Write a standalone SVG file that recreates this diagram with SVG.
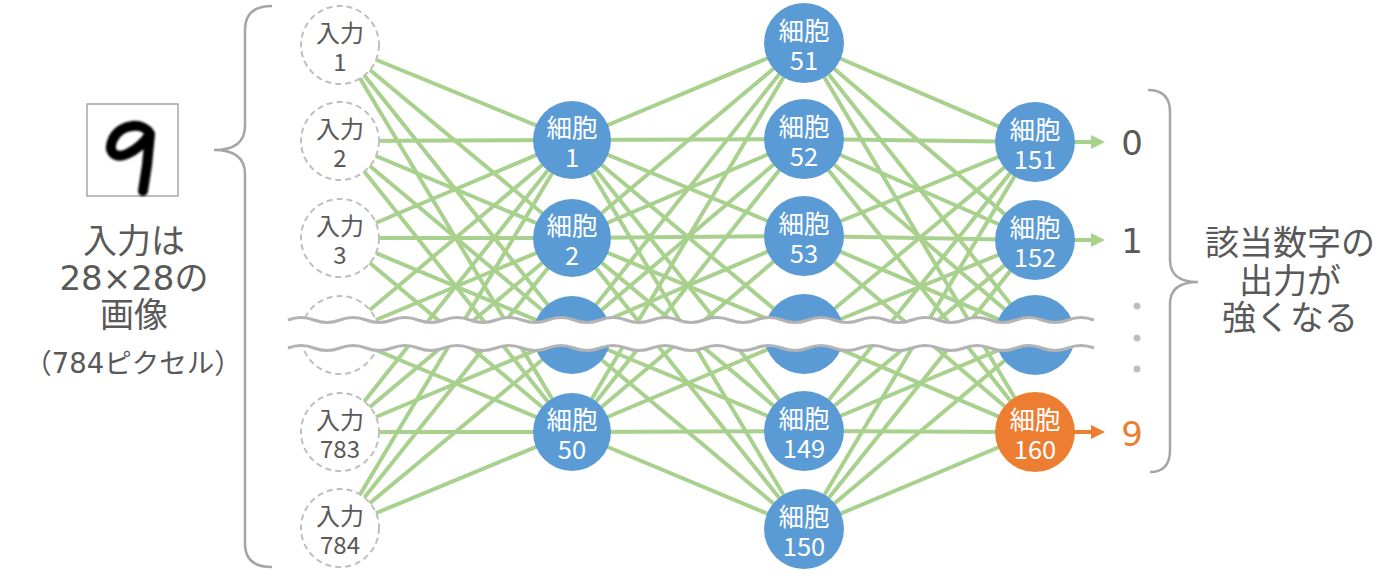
<svg xmlns="http://www.w3.org/2000/svg" width="1400" height="580" viewBox="0 0 1400 580">
<style>
  text { font-family: "Noto Sans CJK JP", "Noto Sans", sans-serif; text-anchor: middle; }
  .conn line { stroke: #A9D18E; stroke-width: 4; stroke-linecap: round; }
  .inp circle { fill: #ffffff; stroke: #BFBFBF; stroke-width: 2; stroke-dasharray: 6 4; }
  .inp text { fill: #595959; font-size: 24px; }
  .cell circle { fill: #5B9BD5; }
  .cell text { fill: #ffffff; font-size: 25.5px; }
  .cell.hot circle { fill: #ED7D31; }
  .brace { fill: none; stroke: #A6A6A6; stroke-width: 2.5; }
  .big { fill: #595959; font-size: 34px; font-family: "DejaVu Sans", "Noto Sans CJK JP", sans-serif; }
  .note { fill: #595959; font-size: 27.5px; font-family: "DejaVu Sans", "Noto Sans CJK JP", sans-serif; }
  .wave { fill: none; stroke: #B3B3B3; stroke-width: 3; }
  .dot { fill: #BFBFBF; }
</style>
<defs>
  <marker id="ahG" markerUnits="userSpaceOnUse" markerWidth="14" markerHeight="14" viewBox="0 0 12 12" refX="6" refY="6" orient="auto">
    <path d="M0,0 L12,6 L0,12 z" fill="#A9D18E"/>
  </marker>
  <marker id="ahO" markerUnits="userSpaceOnUse" markerWidth="14" markerHeight="14" viewBox="0 0 12 12" refX="6" refY="6" orient="auto">
    <path d="M0,0 L12,6 L0,12 z" fill="#ED7D31"/>
  </marker>
  <filter id="soft" x="-20%" y="-20%" width="140%" height="140%">
    <feGaussianBlur stdDeviation="1"/>
  </filter>
</defs>
<rect width="1400" height="580" fill="#ffffff"/>

<!-- input image -->
<g id="input-image">
  <rect x="87" y="104" width="91" height="92" fill="#ffffff" stroke="#A6A6A6" stroke-width="1.5"/>
  <path d="M150 134 C144 122 121 123 113 139 C107 152 115 159 127 154 C138 149 146 140 150 134 L147 165 L143 191" fill="none" stroke="#000000" stroke-width="10" stroke-linecap="round" stroke-linejoin="round" filter="url(#soft)"/>
</g>

<!-- left caption -->
<g id="left-caption">
  <text class="big" x="134" y="253">入力は</text>
  <text class="big" x="134" y="290">28×28の</text>
  <text class="big" x="134" y="327">画像</text>
  <text class="note" x="133" y="373">（784ピクセル）</text>
</g>

<!-- braces -->
<path id="left-brace" class="brace" d="M272 6 Q245 6 245 30 L245 126 Q245 150 214 150 Q245 150 245 174 L245 544 Q245 567 272 567"/>
<path id="right-brace" class="brace" d="M1148 90 Q1170 90 1170 112 L1170 260 Q1170 282 1198 282 Q1170 282 1170 304 L1170 450 Q1170 472 1150 472"/>

<!-- connectors -->
<g id="connectors" class="conn">
  <!-- input -> hidden1 -->
  <line x1="340" y1="45" x2="572" y2="140"/>
  <line x1="340" y1="45" x2="572" y2="238"/>
  <line x1="340" y1="45" x2="572" y2="335"/>
  <line x1="340" y1="45" x2="572" y2="432"/>
  <line x1="340" y1="141" x2="572" y2="140"/>
  <line x1="340" y1="141" x2="572" y2="238"/>
  <line x1="340" y1="141" x2="572" y2="335"/>
  <line x1="340" y1="141" x2="572" y2="432"/>
  <line x1="340" y1="238" x2="572" y2="140"/>
  <line x1="340" y1="238" x2="572" y2="238"/>
  <line x1="340" y1="238" x2="572" y2="335"/>
  <line x1="340" y1="238" x2="572" y2="432"/>
  <line x1="340" y1="335" x2="572" y2="140"/>
  <line x1="340" y1="335" x2="572" y2="238"/>
  <line x1="340" y1="335" x2="572" y2="335"/>
  <line x1="340" y1="335" x2="572" y2="432"/>
  <line x1="340" y1="432" x2="572" y2="140"/>
  <line x1="340" y1="432" x2="572" y2="238"/>
  <line x1="340" y1="432" x2="572" y2="335"/>
  <line x1="340" y1="432" x2="572" y2="432"/>
  <line x1="340" y1="528" x2="572" y2="140"/>
  <line x1="340" y1="528" x2="572" y2="238"/>
  <line x1="340" y1="528" x2="572" y2="335"/>
  <line x1="340" y1="528" x2="572" y2="432"/>
  <!-- hidden1 -> hidden2 -->
  <line x1="572" y1="140" x2="804" y2="43"/>
  <line x1="572" y1="140" x2="804" y2="139"/>
  <line x1="572" y1="140" x2="804" y2="236"/>
  <line x1="572" y1="140" x2="804" y2="334"/>
  <line x1="572" y1="140" x2="804" y2="431"/>
  <line x1="572" y1="140" x2="804" y2="529"/>
  <line x1="572" y1="238" x2="804" y2="43"/>
  <line x1="572" y1="238" x2="804" y2="139"/>
  <line x1="572" y1="238" x2="804" y2="236"/>
  <line x1="572" y1="238" x2="804" y2="334"/>
  <line x1="572" y1="238" x2="804" y2="431"/>
  <line x1="572" y1="238" x2="804" y2="529"/>
  <line x1="572" y1="335" x2="804" y2="43"/>
  <line x1="572" y1="335" x2="804" y2="139"/>
  <line x1="572" y1="335" x2="804" y2="236"/>
  <line x1="572" y1="335" x2="804" y2="334"/>
  <line x1="572" y1="335" x2="804" y2="431"/>
  <line x1="572" y1="335" x2="804" y2="529"/>
  <line x1="572" y1="432" x2="804" y2="43"/>
  <line x1="572" y1="432" x2="804" y2="139"/>
  <line x1="572" y1="432" x2="804" y2="236"/>
  <line x1="572" y1="432" x2="804" y2="334"/>
  <line x1="572" y1="432" x2="804" y2="431"/>
  <line x1="572" y1="432" x2="804" y2="529"/>
  <!-- hidden2 -> output -->
  <line x1="804" y1="43" x2="1035" y2="142"/>
  <line x1="804" y1="43" x2="1035" y2="240"/>
  <line x1="804" y1="43" x2="1035" y2="335"/>
  <line x1="804" y1="43" x2="1035" y2="432"/>
  <line x1="804" y1="139" x2="1035" y2="142"/>
  <line x1="804" y1="139" x2="1035" y2="240"/>
  <line x1="804" y1="139" x2="1035" y2="335"/>
  <line x1="804" y1="139" x2="1035" y2="432"/>
  <line x1="804" y1="236" x2="1035" y2="142"/>
  <line x1="804" y1="236" x2="1035" y2="240"/>
  <line x1="804" y1="236" x2="1035" y2="335"/>
  <line x1="804" y1="236" x2="1035" y2="432"/>
  <line x1="804" y1="334" x2="1035" y2="142"/>
  <line x1="804" y1="334" x2="1035" y2="240"/>
  <line x1="804" y1="334" x2="1035" y2="335"/>
  <line x1="804" y1="334" x2="1035" y2="432"/>
  <line x1="804" y1="431" x2="1035" y2="142"/>
  <line x1="804" y1="431" x2="1035" y2="240"/>
  <line x1="804" y1="431" x2="1035" y2="335"/>
  <line x1="804" y1="431" x2="1035" y2="432"/>
  <line x1="804" y1="529" x2="1035" y2="142"/>
  <line x1="804" y1="529" x2="1035" y2="240"/>
  <line x1="804" y1="529" x2="1035" y2="335"/>
  <line x1="804" y1="529" x2="1035" y2="432"/>
  <!-- outputs -->
  <line x1="1070" y1="142" x2="1098" y2="142" stroke-linecap="butt" stroke-width="3.5" marker-end="url(#ahG)"/>
  <line x1="1070" y1="240" x2="1098" y2="240" stroke-linecap="butt" stroke-width="3.5" marker-end="url(#ahG)"/>
  <line x1="1070" y1="432" x2="1098" y2="432" style="stroke:#ED7D31" stroke-linecap="butt" stroke-width="3.5" marker-end="url(#ahO)"/>
</g>

<!-- input nodes -->
<g id="in1" class="inp"><circle cx="340" cy="45" r="39"/><text x="340" y="42">入力</text><text x="340" y="71">1</text></g>
<g id="in2" class="inp"><circle cx="340" cy="141" r="39"/><text x="340" y="138">入力</text><text x="340" y="167">2</text></g>
<g id="in3" class="inp"><circle cx="340" cy="238" r="39"/><text x="340" y="235">入力</text><text x="340" y="264">3</text></g>
<g id="in-mid" class="inp"><circle cx="340" cy="335" r="39"/></g>
<g id="in783" class="inp"><circle cx="340" cy="432" r="39"/><text x="340" y="429">入力</text><text x="340" y="458">783</text></g>
<g id="in784" class="inp"><circle cx="340" cy="528" r="39"/><text x="340" y="525">入力</text><text x="340" y="554">784</text></g>

<!-- hidden layer 1 -->
<g id="c1" class="cell"><circle cx="572" cy="140" r="39"/><text x="572" y="137">細胞</text><text x="572" y="167">1</text></g>
<g id="c2" class="cell"><circle cx="572" cy="238" r="39"/><text x="572" y="235">細胞</text><text x="572" y="265">2</text></g>
<g id="c-mid1" class="cell"><circle cx="572" cy="335" r="39"/></g>
<g id="c50" class="cell"><circle cx="572" cy="432" r="39"/><text x="572" y="429">細胞</text><text x="572" y="459">50</text></g>

<!-- hidden layer 2 -->
<g id="c51" class="cell"><circle cx="804" cy="43" r="40"/><text x="804" y="40">細胞</text><text x="804" y="70">51</text></g>
<g id="c52" class="cell"><circle cx="804" cy="139" r="40"/><text x="804" y="136">細胞</text><text x="804" y="166">52</text></g>
<g id="c53" class="cell"><circle cx="804" cy="236" r="40"/><text x="804" y="233">細胞</text><text x="804" y="263">53</text></g>
<g id="c-mid2" class="cell"><circle cx="804" cy="334" r="40"/></g>
<g id="c149" class="cell"><circle cx="804" cy="431" r="40"/><text x="804" y="428">細胞</text><text x="804" y="458">149</text></g>
<g id="c150" class="cell"><circle cx="804" cy="529" r="40"/><text x="804" y="526">細胞</text><text x="804" y="556">150</text></g>

<!-- output layer -->
<g id="c151" class="cell"><circle cx="1035" cy="142" r="40"/><text x="1035" y="139">細胞</text><text x="1035" y="169">151</text></g>
<g id="c152" class="cell"><circle cx="1035" cy="240" r="40"/><text x="1035" y="237">細胞</text><text x="1035" y="267">152</text></g>
<g id="c-mid3" class="cell"><circle cx="1035" cy="335" r="40"/></g>
<g id="c160" class="cell hot"><circle cx="1035" cy="432" r="40"/><text x="1035" y="429">細胞</text><text x="1035" y="459">160</text></g>

<!-- break band -->
<g id="break">
  <path fill="#ffffff" d="M288 320 q13 -5 26 0 t26 0 t26 0 t26 0 t26 0 t26 0 t26 0 t26 0 t26 0 t26 0 t26 0 t26 0 t26 0 t26 0 t26 0 t26 0 t26 0 t26 0 t26 0 t26 0 t26 0 t26 0 t26 0 t26 0 t26 0 t26 0 t26 0 t26 0 t26 0 t26 0 t26 0 L1094 348 q-13 -5 -26 0 t-26 0 t-26 0 t-26 0 t-26 0 t-26 0 t-26 0 t-26 0 t-26 0 t-26 0 t-26 0 t-26 0 t-26 0 t-26 0 t-26 0 t-26 0 t-26 0 t-26 0 t-26 0 t-26 0 t-26 0 t-26 0 t-26 0 t-26 0 t-26 0 t-26 0 t-26 0 t-26 0 t-26 0 t-26 0 t-26 0 z"/>
  <path class="wave" d="M288 320 q13 -5 26 0 t26 0 t26 0 t26 0 t26 0 t26 0 t26 0 t26 0 t26 0 t26 0 t26 0 t26 0 t26 0 t26 0 t26 0 t26 0 t26 0 t26 0 t26 0 t26 0 t26 0 t26 0 t26 0 t26 0 t26 0 t26 0 t26 0 t26 0 t26 0 t26 0 t26 0"/>
  <path class="wave" d="M288 348 q13 -5 26 0 t26 0 t26 0 t26 0 t26 0 t26 0 t26 0 t26 0 t26 0 t26 0 t26 0 t26 0 t26 0 t26 0 t26 0 t26 0 t26 0 t26 0 t26 0 t26 0 t26 0 t26 0 t26 0 t26 0 t26 0 t26 0 t26 0 t26 0 t26 0 t26 0 t26 0"/>
</g>

<!-- output labels -->
<g id="out-labels">
  <text class="big" x="1132" y="155">0</text>
  <text class="big" x="1132" y="253">1</text>
  <circle class="dot" cx="1137" cy="306" r="3.5"/>
  <circle class="dot" cx="1137" cy="338" r="3.5"/>
  <circle class="dot" cx="1137" cy="369" r="3.5"/>
  <text class="big" x="1132" y="446" style="fill:#ED7D31">9</text>
</g>

<!-- right caption -->
<g id="right-caption">
  <text class="big" x="1290" y="255">該当数字の</text>
  <text class="big" x="1290" y="293">出力が</text>
  <text class="big" x="1290" y="330">強くなる</text>
</g>
</svg>
